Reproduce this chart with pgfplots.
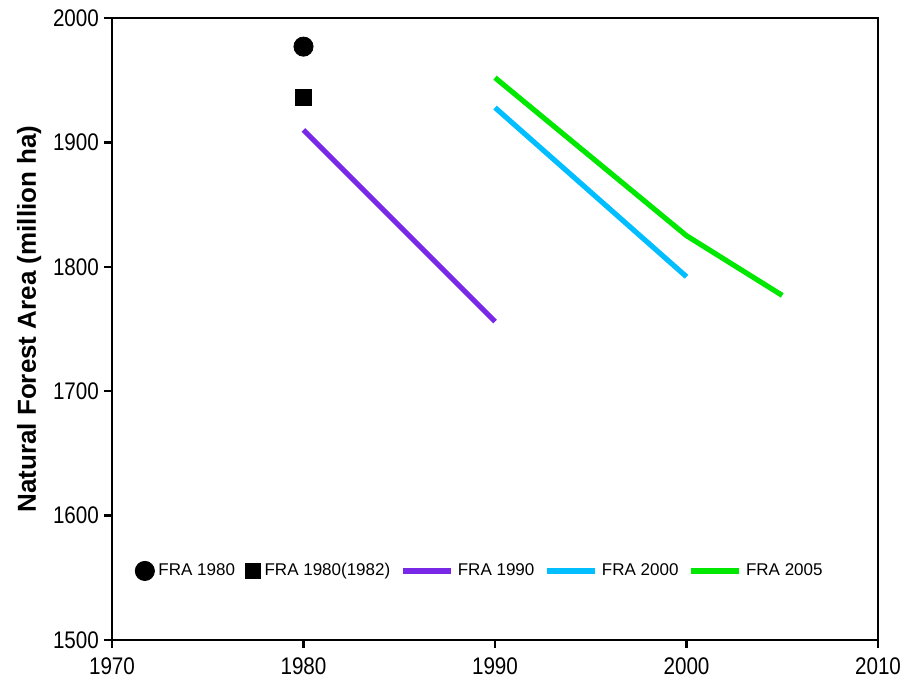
\documentclass[border=0pt]{standalone}
\usepackage{fontspec}
\setmainfont{Liberation Sans}
\newfontfamily\tickfont[FakeStretch=0.86]{Liberation Sans}
\usepackage{pgfplots}
\pgfplotsset{compat=1.18}
\definecolor{fra90}{RGB}{122,40,232}
\definecolor{fra00}{RGB}{0,190,255}
\definecolor{fra05}{RGB}{0,232,0}
\pgfplotsset{longline/.style={legend image code/.code={\draw[##1] (0cm,0cm) -- (0.85cm,0cm);}}}
\begin{document}
\begin{tikzpicture}
  \begin{axis}[
      width=383pt, height=311pt, scale only axis,
      xmin=1970, xmax=2010, ymin=1500, ymax=2000,
      xtick={1970,1980,...,2010}, ytick={1500,1600,...,2000},
      axis line style={line width=1.4pt},
      tick style={line width=1.2pt, black},
      tick align=outside, major tick length=4pt,
      xtick pos=bottom, ytick pos=left,
      x tick label style={/pgf/number format/1000 sep={}, font=\tickfont\fontsize{12}{14}\selectfont, yshift=-1.2pt},
      y tick label style={/pgf/number format/1000 sep={}, font=\tickfont\fontsize{12}{14}\selectfont, xshift=1pt},
      /pgf/number format/assume math mode=true,
      ylabel={\bfseries Natural Forest Area (million ha)},
      ylabel style={font=\fontsize{13}{15}\selectfont, yshift=-1pt, xshift=5pt},
      legend columns=-1,
      legend style={draw=none, fill=none, at={(0.022,0.111)}, anchor=west,
        font=\fontsize{8.5}{10}\selectfont,
        /tikz/every even column/.append style={column sep=3pt},
        /tikz/every odd column/.append style={column sep=0pt}},
      legend cell align=left,
    ]
    \addplot[only marks, mark=*, mark size=4.8pt, black] coordinates {(1980,1977)};
    \addlegendentry{FRA 1980}
    \addplot[only marks, mark=square*, mark size=3.9pt, black] coordinates {(1980,1936)};
    \addlegendentry{FRA 1980(1982)}
    \addplot[fra90, line width=2.6pt, longline]
      coordinates {(1980,1910) (1990,1756)};
    \addlegendentry{FRA 1990}
    \addplot[fra00, line width=2.6pt, longline]
      coordinates {(1990,1928) (2000,1792)};
    \addlegendentry{FRA 2000}
    \addplot[fra05, line width=2.6pt, longline]
      coordinates {(1990,1952) (2000,1825) (2005,1777)};
    \addlegendentry{FRA 2005}
  \end{axis}
  \pgfresetboundingbox
  \path[use as bounding box] ([xshift=-56pt,yshift=-19.5pt]current axis.south west)
    rectangle ([xshift=20pt,yshift=9pt]current axis.north east);
\end{tikzpicture}
\end{document}
